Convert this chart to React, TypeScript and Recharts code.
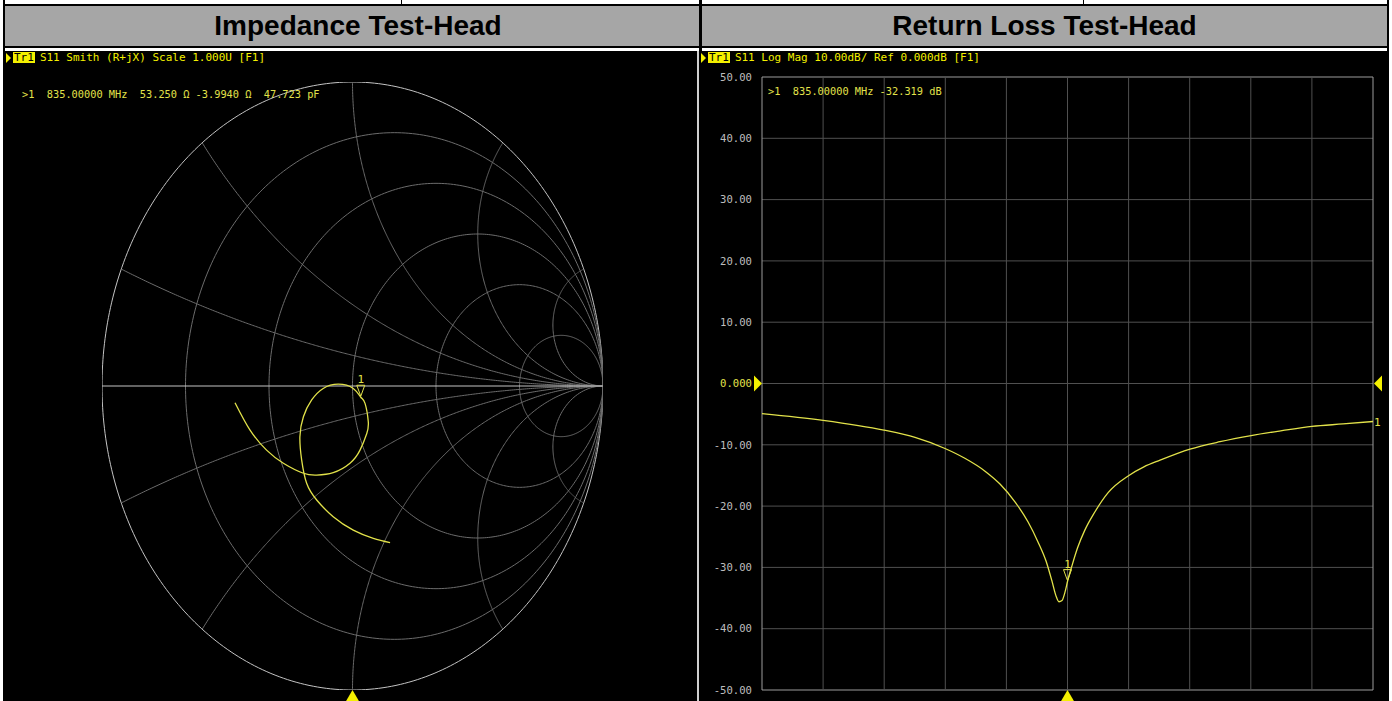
import { LineChart, Line, XAxis, YAxis, ReferenceLine, ReferenceDot } from 'recharts';

const YELLOW = '#e2e24a';
const BRIGHT = '#f4f000';
const MONO = '"DejaVu Sans Mono", monospace';

// Smith chart grid values
const rCircles = [0, 0.2, 0.5, 1, 2, 5];
const xArcs = [0.2, 0.5, 1, 2, 5, -0.2, -0.5, -1, -2, -5];

// S11 trace on the Smith chart
const smithRe = [
  -0.469, -0.409, -0.343, -0.276, -0.196, -0.143, -0.077, -0.01, 0.03, 0.057, 0.063, 0.05, 0.033,
  0.003, -0.057, -0.117, -0.163, -0.196, -0.21, -0.203, -0.183, -0.143, -0.077, 0.003, 0.083, 0.15,
];
const smithIm = [
  -0.055, -0.145, -0.211, -0.254, -0.287, -0.293, -0.285, -0.254, -0.211, -0.156, -0.117, -0.057,
  -0.037, -0.008, 0.006, -0.008, -0.046, -0.101, -0.167, -0.243, -0.32, -0.375, -0.43, -0.474,
  -0.501, -0.515,
];
const smithMarker = { re: 0.033, im: -0.037 };

// Log mag trace
const freqMHz = [
  735, 755, 774.9, 785.1, 794.9, 801.4, 808, 812.9, 817.8, 822.1, 825.3, 828, 829.9, 831.2, 832.2,
  833.2, 834.2, 835, 836.6, 838.3, 840.6, 843.9, 848.3, 855.1, 860, 865.3, 875.1, 884.9, 895.1,
  905.2, 915, 925.2, 935,
];
const s11dB = [
  -4.9, -6.0, -7.6, -8.8, -10.6, -12.2, -14.3, -16.4, -19.3, -22.6, -25.8, -29.0, -32.2, -34.6,
  -35.6, -35.4, -34.0, -32.3, -29.5, -26.8, -24.0, -21.0, -17.8, -15.0, -13.6, -12.5, -10.7, -9.5,
  -8.5, -7.7, -7.0, -6.6, -6.2,
];
const dbTicks = [50, 40, 30, 20, 10, 0, -10, -20, -30, -40, -50];
const freqDivs = [735, 755, 775, 795, 815, 835, 855, 875, 895, 915, 935];
const marker = { f: 835, db: -32.319 };

function gammaOf(re: number, im: number) {
  const d = (re + 1) ** 2 + im ** 2;
  return { x: (re * re - 1 + im * im) / d, y: (2 * im) / d };
}

function resistanceCircle(r: number) {
  const c = r / (r + 1);
  const rad = 1 / (r + 1);
  const pts = [];
  for (let i = 0; i <= 360; i++) {
    const a = (i * Math.PI) / 180;
    pts.push({ x: c + rad * Math.cos(a), y: rad * Math.sin(a) });
  }
  return pts;
}

function reactanceArc(xv: number) {
  const pts = [];
  for (let i = 0; i < 300; i++) {
    pts.push(gammaOf(Math.tan(((i / 300) * Math.PI) / 2), xv));
  }
  pts.push({ x: 1, y: 0 });
  return pts;
}

const smithTrace = smithRe.map((x, i) => ({ x, y: smithIm[i] }));
const logMagData = freqMHz.map((f, i) => ({ f, db: s11dB[i] }));

function UpTriangle({ cx, cy }: any) {
  return <path d={`M${cx},${cy} L${cx + 7},${cy + 12} L${cx - 7},${cy + 12} Z`} fill={BRIGHT} />;
}

function MarkerFlag({ cx, cy }: any) {
  return (
    <g>
      <path
        d={`M${cx - 4},${cy - 12} L${cx + 4},${cy - 12} L${cx},${cy - 1} Z`}
        fill="none"
        stroke={YELLOW}
        strokeWidth={1}
      />
      <text x={cx} y={cy - 14} textAnchor="middle" fill={YELLOW} fontSize={11} fontFamily={MONO}>
        1
      </text>
    </g>
  );
}

function DbTick(props: any) {
  const { x, y, payload } = props;
  const v = payload.value as number;
  return (
    <text
      x={x}
      y={y}
      dy="0.35em"
      textAnchor="end"
      fill={v === 0 ? YELLOW : '#bdbdbd'}
      fontSize={10.6}
      fontFamily={MONO}
    >
      {v === 0 ? '0.000' : v.toFixed(2)}
    </text>
  );
}

function TraceHeader({ left, text }: { left: number; text: string }) {
  return (
    <div style={{ position: 'absolute', left, top: 52, height: 11, display: 'flex', alignItems: 'center' }}>
      <div
        style={{
          width: 0,
          height: 0,
          borderTop: '5px solid transparent',
          borderBottom: '5px solid transparent',
          borderLeft: `5px solid ${BRIGHT}`,
          marginRight: 2,
        }}
      />
      <div
        style={{
          background: BRIGHT,
          color: '#000',
          fontFamily: MONO,
          fontSize: 11,
          lineHeight: '11px',
          padding: '0 1px',
        }}
      >
        Tr1
      </div>
      <div style={{ color: BRIGHT, fontFamily: MONO, fontSize: 11, lineHeight: '11px', marginLeft: 5, whiteSpace: 'pre' }}>
        {text}
      </div>
    </div>
  );
}

function box(left: number, top: number, width: number, height: number, background: string) {
  return <div style={{ position: 'absolute', left, top, width, height, background }} />;
}

const titleStyle = {
  position: 'absolute' as const,
  top: 6,
  height: 40,
  lineHeight: '40px',
  textAlign: 'center' as const,
  fontFamily: '"Liberation Sans", Arial, sans-serif',
  fontWeight: 'bold' as const,
  fontSize: 28,
  color: '#000',
};

export default function App() {
  return (
    <div
      style={{
        position: 'absolute',
        left: 0,
        top: 0,
        width: 1392,
        height: 701,
        background: '#fff',
        overflow: 'hidden',
      }}
    >
      {/* table frame */}
      {box(3, 0, 2, 701, '#000')}
      {box(1387, 0, 2, 701, '#000')}
      {box(3, 4, 1386, 2, '#000')}
      {box(401, 0, 1, 4, '#000')}
      {box(1083, 0, 1, 4, '#000')}
      {box(5, 6, 1382, 40, '#a6a6a6')}
      {box(5, 46, 1382, 1.5, '#000')}
      {box(699, 0, 3, 701, '#000')}
      <div style={{ ...titleStyle, left: 11, width: 694 }}>Impedance Test-Head</div>
      <div style={{ ...titleStyle, left: 702, width: 685 }}>Return Loss Test-Head</div>

      {/* instrument panels */}
      {box(5, 51, 692, 650, '#000')}
      {box(697, 51, 1.5, 650, '#cfcfcf')}
      {box(699, 51, 688, 650, '#000')}

      {/* Smith chart */}
      <div style={{ position: 'absolute', left: 5, top: 52 }}>
        <LineChart width={693} height={649} margin={{ top: 30, right: 95, bottom: 11, left: 97 }}>
          <XAxis type="number" dataKey="x" domain={[-1, 1]} hide allowDataOverflow />
          <YAxis type="number" domain={[-1, 1]} hide allowDataOverflow />
          {rCircles.map(r => (
            <Line
              key={`r${r}`}
              data={resistanceCircle(r)}
              dataKey="y"
              stroke={r === 0 ? '#c4c4c4' : '#6c6c6c'}
              strokeWidth={1}
              dot={false}
              activeDot={false}
              isAnimationActive={false}
            />
          ))}
          {xArcs.map(xv => (
            <Line
              key={`x${xv}`}
              data={reactanceArc(xv)}
              dataKey="y"
              stroke="#6c6c6c"
              strokeWidth={1}
              dot={false}
              activeDot={false}
              isAnimationActive={false}
            />
          ))}
          <Line
            data={[
              { x: -1, y: 0 },
              { x: 1, y: 0 },
            ]}
            dataKey="y"
            stroke="#c4c4c4"
            strokeWidth={1.2}
            dot={false}
            activeDot={false}
            isAnimationActive={false}
          />
          <Line
            data={smithTrace}
            dataKey="y"
            type="natural"
            stroke={YELLOW}
            strokeWidth={1.3}
            dot={false}
            activeDot={false}
            isAnimationActive={false}
          />
          <ReferenceDot x={smithMarker.re} y={smithMarker.im} ifOverflow="visible" shape={MarkerFlag} />
          <ReferenceDot x={0} y={-1} ifOverflow="visible" shape={UpTriangle} />
        </LineChart>
      </div>
      <TraceHeader left={6} text="S11 Smith (R+jX) Scale 1.000U [F1]" />
      <div
        style={{
          position: 'absolute',
          left: 22,
          top: 88,
          color: YELLOW,
          fontFamily: MONO,
          fontSize: 10.3,
          lineHeight: '12px',
          whiteSpace: 'pre',
        }}
      >
        {'>1  835.00000 MHz  53.250 Ω -3.9940 Ω  47.723 pF'}
      </div>

      {/* Log mag chart */}
      <div style={{ position: 'absolute', left: 700, top: 52 }}>
        <LineChart width={687} height={649} data={logMagData} margin={{ top: 25, right: 14, bottom: 11, left: 2 }}>
          <XAxis type="number" dataKey="f" domain={[735, 935]} hide />
          <YAxis
            type="number"
            domain={[-50, 50]}
            ticks={dbTicks}
            interval={0}
            axisLine={false}
            tickLine={false}
            tickMargin={4}
            width={60}
            tick={<DbTick />}
          />
          {dbTicks.map(v => (
            <ReferenceLine
              key={`h${v}`}
              y={v}
              stroke={v === 50 || v === -50 ? '#9c9c9c' : '#505050'}
              strokeWidth={1}
            />
          ))}
          {freqDivs.map((f, i) => (
            <ReferenceLine
              key={`v${f}`}
              x={f}
              stroke={i === 0 || i === freqDivs.length - 1 ? '#9c9c9c' : '#505050'}
              strokeWidth={1}
            />
          ))}
          <Line
            dataKey="db"
            type="monotone"
            stroke={YELLOW}
            strokeWidth={1.3}
            dot={false}
            activeDot={false}
            isAnimationActive={false}
          />
          <ReferenceDot x={marker.f} y={marker.db} ifOverflow="visible" shape={MarkerFlag} />
          <ReferenceDot x={marker.f} y={-50} ifOverflow="visible" shape={UpTriangle} />
          <ReferenceDot
            x={freqMHz[0]}
            y={0}
            ifOverflow="visible"
            shape={({ cx, cy }: any) => (
              <path d={`M${cx},${cy} L${cx - 8},${cy - 8} L${cx - 8},${cy + 8} Z`} fill={BRIGHT} />
            )}
          />
          <ReferenceDot
            x={freqMHz[freqMHz.length - 1]}
            y={0}
            ifOverflow="visible"
            shape={({ cx, cy }: any) => (
              <path d={`M${cx + 1},${cy} L${cx + 9},${cy - 8} L${cx + 9},${cy + 8} Z`} fill={BRIGHT} />
            )}
          />
          <ReferenceDot
            x={freqMHz[freqMHz.length - 1]}
            y={s11dB[s11dB.length - 1]}
            ifOverflow="visible"
            shape={({ cx, cy }: any) => (
              <text x={cx + 1} y={cy + 4} fill={YELLOW} fontSize={11} fontFamily={MONO}>
                1
              </text>
            )}
          />
        </LineChart>
      </div>
      <TraceHeader left={701} text="S11 Log Mag 10.00dB/ Ref 0.000dB [F1]" />
      <div
        style={{
          position: 'absolute',
          left: 768,
          top: 85,
          color: YELLOW,
          fontFamily: MONO,
          fontSize: 10.3,
          lineHeight: '12px',
          whiteSpace: 'pre',
        }}
      >
        {'>1  835.00000 MHz -32.319 dB'}
      </div>
    </div>
  );
}
